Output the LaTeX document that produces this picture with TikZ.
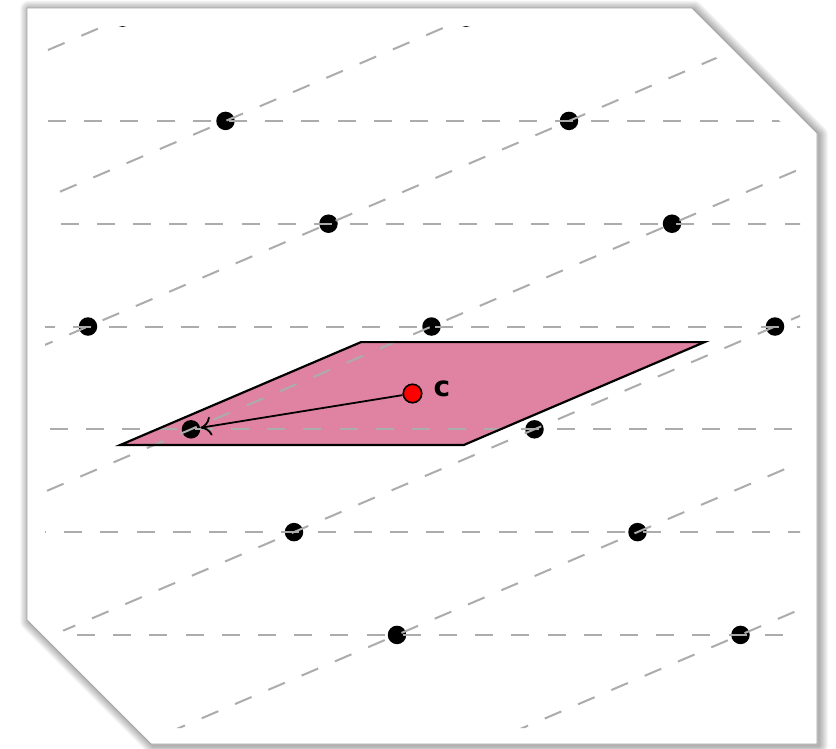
\documentclass[tikz,border=0pt]{standalone}
\usepackage{fontspec}
\newfontfamily\labelfont{DejaVu Sans}
\usetikzlibrary{arrows.meta}
\definecolor{linegray}{RGB}{172,172,172}
\definecolor{cellpink}{RGB}{224,131,163}
\begin{document}
\begin{tikzpicture}[x=1pt,y=-1pt,
  latdot/.style={circle,fill=black,inner sep=0pt,minimum size=18.5pt},
  gridline/.style={draw=linegray,line width=2pt,dash pattern=on 18pt off 18.2pt},
  cellborder/.style={draw=black,line width=2.2pt,line join=miter},
  cdot/.style={circle,fill=red,draw=black,line width=1.6pt,inner sep=0pt,minimum size=18.5pt},
  vecarrow/.style={draw=black,line width=1.8pt,-{To[length=11pt,width=19pt]}},
  lab/.style={font=\labelfont\bfseries\fontsize{28}{28}\selectfont,inner sep=0pt}]
\path[use as bounding box,fill=white] (0,0) rectangle (836,748);
% paper shadow
\foreach \w in {1,...,12}
  \draw[black,opacity=0.028,line width=\w*1.5pt,line join=round,shift={(2,1.5)}]
    (27,8) -- (692,8) -- (817,133) -- (817,744) -- (151,744) -- (27,620) -- cycle;
% paper
\draw[fill=white,draw=gray!70,line width=0.9pt,line join=miter]
  (27,8) -- (692,8) -- (817,133) -- (817,744) -- (151,744) -- (27,620) -- cycle;
\begin{scope}
\clip (45,26) -- (684.5,26) -- (800,141.5) -- (800,728) -- (160.5,728) -- (45,612.5) -- cycle;
% unit cell
\coordinate (q1) at (120.5,444.9);
\coordinate (q2) at (464,444.9);
\coordinate (q3) at (704.5,342.1);
\coordinate (q4) at (361,342.1);
\fill[cellpink] (q1) -- (q2) -- (q3) -- (q4) -- cycle;
% lattice points
\node[latdot] (dm3a) at (122.5,17.6) {};
\node[latdot] (dm3b) at (466,17.6) {};
\node[latdot] (dm2a) at (225.5,120.9) {};
\node[latdot] (dm2b) at (569,120.9) {};
\node[latdot] (dm1a) at (328.5,223.7) {};
\node[latdot] (dm1b) at (672,223.7) {};
\node[latdot] (d0a) at (88,326.5) {};
\node[latdot] (d0b) at (431.5,326.5) {};
\node[latdot] (d0c) at (775,326.5) {};
\node[latdot] (d1a) at (191,429.3) {};
\node[latdot] (d1b) at (534.5,429.3) {};
\node[latdot] (d2a) at (294,532.1) {};
\node[latdot] (d2b) at (637.5,532.1) {};
\node[latdot] (d3a) at (397,634.9) {};
\node[latdot] (d3b) at (740.5,634.9) {};
% horizontal lattice lines
\draw[gridline] (48,120.9) -- (830,120.9);
\draw[gridline] (60.5,223.7) -- (830,223.7);
\draw[gridline] (36.5,326.5) -- (830,326.5);
\draw[gridline] (50,429.3) -- (830,429.3);
\draw[gridline] (28,532.1) -- (830,532.1);
\draw[gridline] (4.6,634.9) -- (830,634.9);
% oblique lattice lines
\draw[gridline] (48,50.0) -- (830,-284.2);
\draw[gridline] (60,191.7) -- (830,-137.4);
\draw[gridline] (36,348.7) -- (830,9.4);
\draw[gridline] (47,490.8) -- (830,156.2);
\draw[gridline] (58.7,632.6) -- (830,303.0);
\draw[gridline] (35.3,789.4) -- (830,449.8);
\draw[gridline] (45.5,931.9) -- (830,596.6);
\draw[cellborder] (q1) -- (q2) -- (q3) -- (q4) -- cycle;
\node[cdot] (c) at (412.5,393.5) {};
\draw[vecarrow] (c) -- (d1a);
\node[lab] (clab) at (442,389) {c};
\end{scope}
\end{tikzpicture}
\end{document}
